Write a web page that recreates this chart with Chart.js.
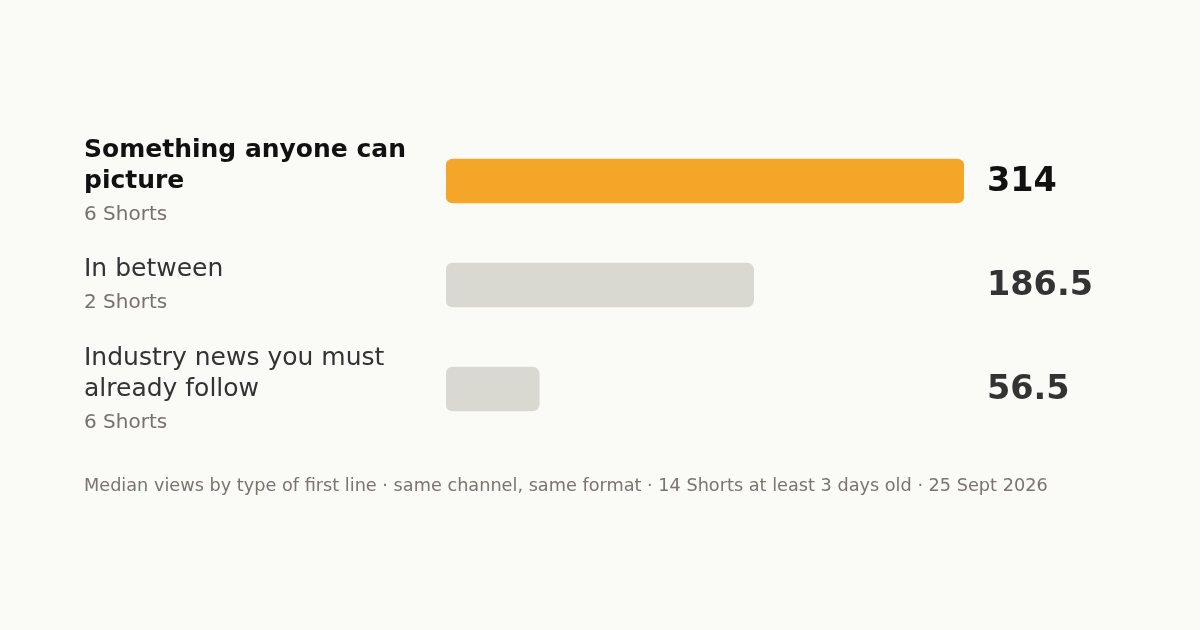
<!DOCTYPE html>
<html>
<head>
<meta charset="utf-8">
<script src="https://cdn.jsdelivr.net/npm/chart.js@4"></script>
<style>
  html, body { margin: 0; padding: 0; background: #fafaf7; }
  #wrap { width: 1200px; height: 630px; position: relative; }
</style>
</head>
<body>
<div id="wrap"><canvas id="myChart"></canvas></div>
<script>
// values
const categories = [
    ['Something anyone can', 'picture'],
    ['In between'],
    ['Industry news you must', 'already follow']
];
const shortCounts = ['6 Shorts', '2 Shorts', '6 Shorts'];
const medianViews = [314, 186.5, 56.5];
const valueLabels = ['314', '186.5', '56.5'];
const footerText = 'Median views by type of first line \u00b7 same channel, same format \u00b7 14 Shorts at least 3 days old \u00b7 25 Sept 2026';

const FONT = '"DejaVu Sans", sans-serif';

// draws left labels, value labels and the footer
const textPlugin = {
    id: 'textPlugin',
    afterDatasetsDraw(chart) {
        const ctx = chart.ctx;
        const yScale = chart.scales.y;
        const xScale = chart.scales.x;
        ctx.save();
        ctx.textBaseline = 'middle';
        ctx.textAlign = 'left';
        categories.forEach((lines, i) => {
            const cy = yScale.getPixelForValue(i);
            const blockH = (lines.length - 1) * 31 + 33;
            let y = cy - blockH / 2 + 1;
            ctx.font = (i === 0 ? 'bold ' : '') + '25px ' + FONT;
            ctx.fillStyle = i === 0 ? '#111111' : '#333333';
            lines.forEach(line => {
                ctx.fillText(line, 84, y);
                y += 31;
            });
            ctx.font = '20px ' + FONT;
            ctx.fillStyle = '#77726b';
            ctx.fillText(shortCounts[i], 84, y - 31 + 33.5);

            ctx.font = 'bold 33.5px ' + FONT;
            ctx.fillStyle = i === 0 ? '#111111' : '#333333';
            ctx.fillText(valueLabels[i], xScale.right + 23, cy + 1);
        });
        ctx.font = '17.7px ' + FONT;
        ctx.fillStyle = '#7a756e';
        ctx.fillText(footerText, 84, 486);
        ctx.restore();
    }
};

const ctx = document.getElementById('myChart').getContext('2d');
const myChart = new Chart(ctx, {
    type: 'bar',
    data: {
        labels: categories,
        datasets: [{
            data: medianViews,
            backgroundColor: ['#f4a628', '#dad9d1', '#dad9d1'],
            borderRadius: 7,
            borderSkipped: false,
            barThickness: 44
        }]
    },
    options: {
        indexAxis: 'y',
        responsive: true,
        maintainAspectRatio: false,
        animation: false,
        layout: {
            padding: { left: 446, right: 236, top: 129, bottom: 189 }
        },
        scales: {
            x: { display: false, min: 0, max: 314 },
            y: { display: false }
        },
        plugins: {
            legend: { display: false },
            tooltip: { enabled: false }
        }
    },
    plugins: [textPlugin]
});
</script>
</body>
</html>
